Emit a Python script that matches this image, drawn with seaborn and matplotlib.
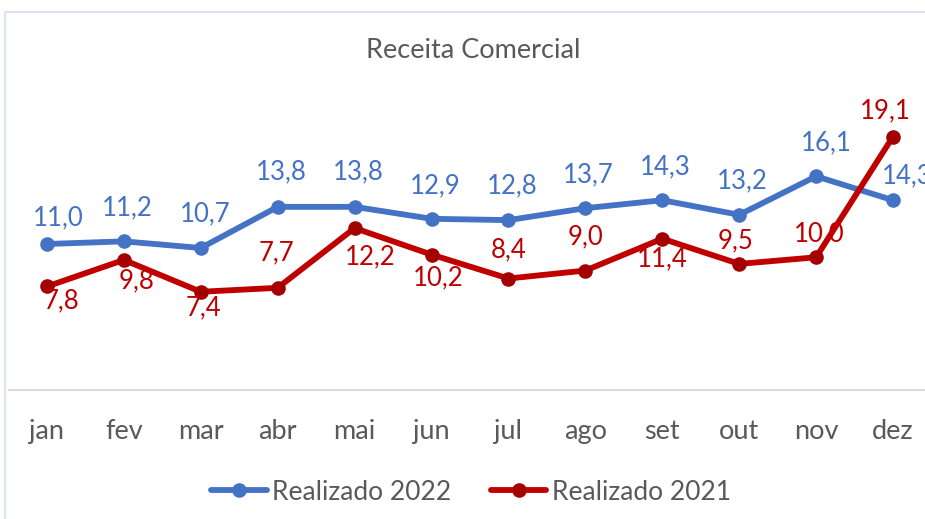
import pandas as pd
import numpy as np
import matplotlib
matplotlib.use("Agg")
import matplotlib.pyplot as plt
import seaborn as sns
from matplotlib.patches import Rectangle

# dados
meses = ["jan", "fev", "mar", "abr", "mai", "jun", "jul", "ago", "set", "out", "nov", "dez"]
realizado_2022 = [11.0, 11.2, 10.7, 13.8, 13.8, 12.9, 12.8, 13.7, 14.3, 13.2, 16.1, 14.3]
realizado_2021 = [7.8, 9.8, 7.4, 7.7, 12.2, 10.2, 8.4, 9.0, 11.4, 9.5, 10.0, 19.1]

# deslocamento dos rótulos (pixels) – posição manual como no Excel
desloc_2022 = [(11, 26), (3, 34), (4, 34), (4, 35), (4, 35), (4, 33),
               (4, 34), (3, 33), (3, 33), (3, 34), (10, 34), (14, 24)]
desloc_2021 = [(15, -14), (13, -21), (3, -16), (-1, 35), (16, -29), (7, -23),
               (0, 29), (0, 34), (0, -20), (-4, 23), (3, 23), (-8, 26)]

azul = "#4472C4"
vermelho = "#C00000"
vermelho_marc = "#A50000"
cinza_txt = "#595959"

sns.set_theme(style="white")
plt.rcParams['font.family'] = ['Lato', 'DejaVu Sans']

df = pd.DataFrame({"pos": np.arange(len(meses)),
                   "r2022": realizado_2022,
                   "r2021": realizado_2021})

fig = plt.figure(figsize=(9.25, 5.19), dpi=100)
ax = fig.add_axes([8.5 / 925, 1 - 390 / 519, 923 / 925, (390 - 58.2) / 519])

sns.lineplot(data=df, x="pos", y="r2022", ax=ax, color=azul, linewidth=4.2,
             marker="o", markersize=10.5, markeredgewidth=0, label="Realizado 2022")
sns.lineplot(data=df, x="pos", y="r2021", ax=ax, color=vermelho, linewidth=4.2,
             marker="o", markersize=10.5, markerfacecolor=vermelho_marc,
             markeredgewidth=0, label="Realizado 2021")

def fmt(v):
    return f"{v:.1f}".replace(".", ",")

for i, v in enumerate(realizado_2022):
    ax.annotate(fmt(v), (i, v), xytext=desloc_2022[i], textcoords="offset pixels",
                ha="center", va="center", color=azul, fontsize=18.5)
for i, v in enumerate(realizado_2021):
    ax.annotate(fmt(v), (i, v), xytext=desloc_2021[i], textcoords="offset pixels",
                ha="center", va="center", color=vermelho, fontsize=18.5)

ax.set_xlim(-0.5, len(meses) - 0.5)
ax.set_ylim(0, 25)
ax.set_xticks(df["pos"])
ax.set_xticklabels(meses, color=cinza_txt, fontsize=19.5)
ax.set_yticks([])
ax.tick_params(axis="x", length=0, pad=21)
ax.set_xlabel("")
ax.set_ylabel("")
for lado in ["top", "right", "left"]:
    ax.spines[lado].set_visible(False)
ax.spines["bottom"].set_color("#D9D9D9")
ax.spines["bottom"].set_linewidth(1.5)
ax.patch.set_alpha(0)
ax.get_legend().remove()

# título
fig.text(473.5 / 925, 1 - 50 / 519, "Receita Comercial", ha="center", va="center",
         color=cinza_txt, fontsize=19.5)

# moldura do gráfico
fig.patches.append(Rectangle((5 / 925, -0.1), 1.0, 1 - 12 / 519 + 0.1,
                             transform=fig.transFigure, fill=False,
                             edgecolor="#DAE3F3", linewidth=1.5))

handles, labels = ax.get_legend_handles_labels()
fig.legend(handles, labels, loc="center", bbox_to_anchor=(471 / 925, 1 - 492 / 519),
           ncol=2, frameon=False, fontsize=19, labelcolor=cinza_txt,
           handlelength=2.1, handletextpad=0.2, columnspacing=1.5)

fig.savefig("out.png", dpi=100)
